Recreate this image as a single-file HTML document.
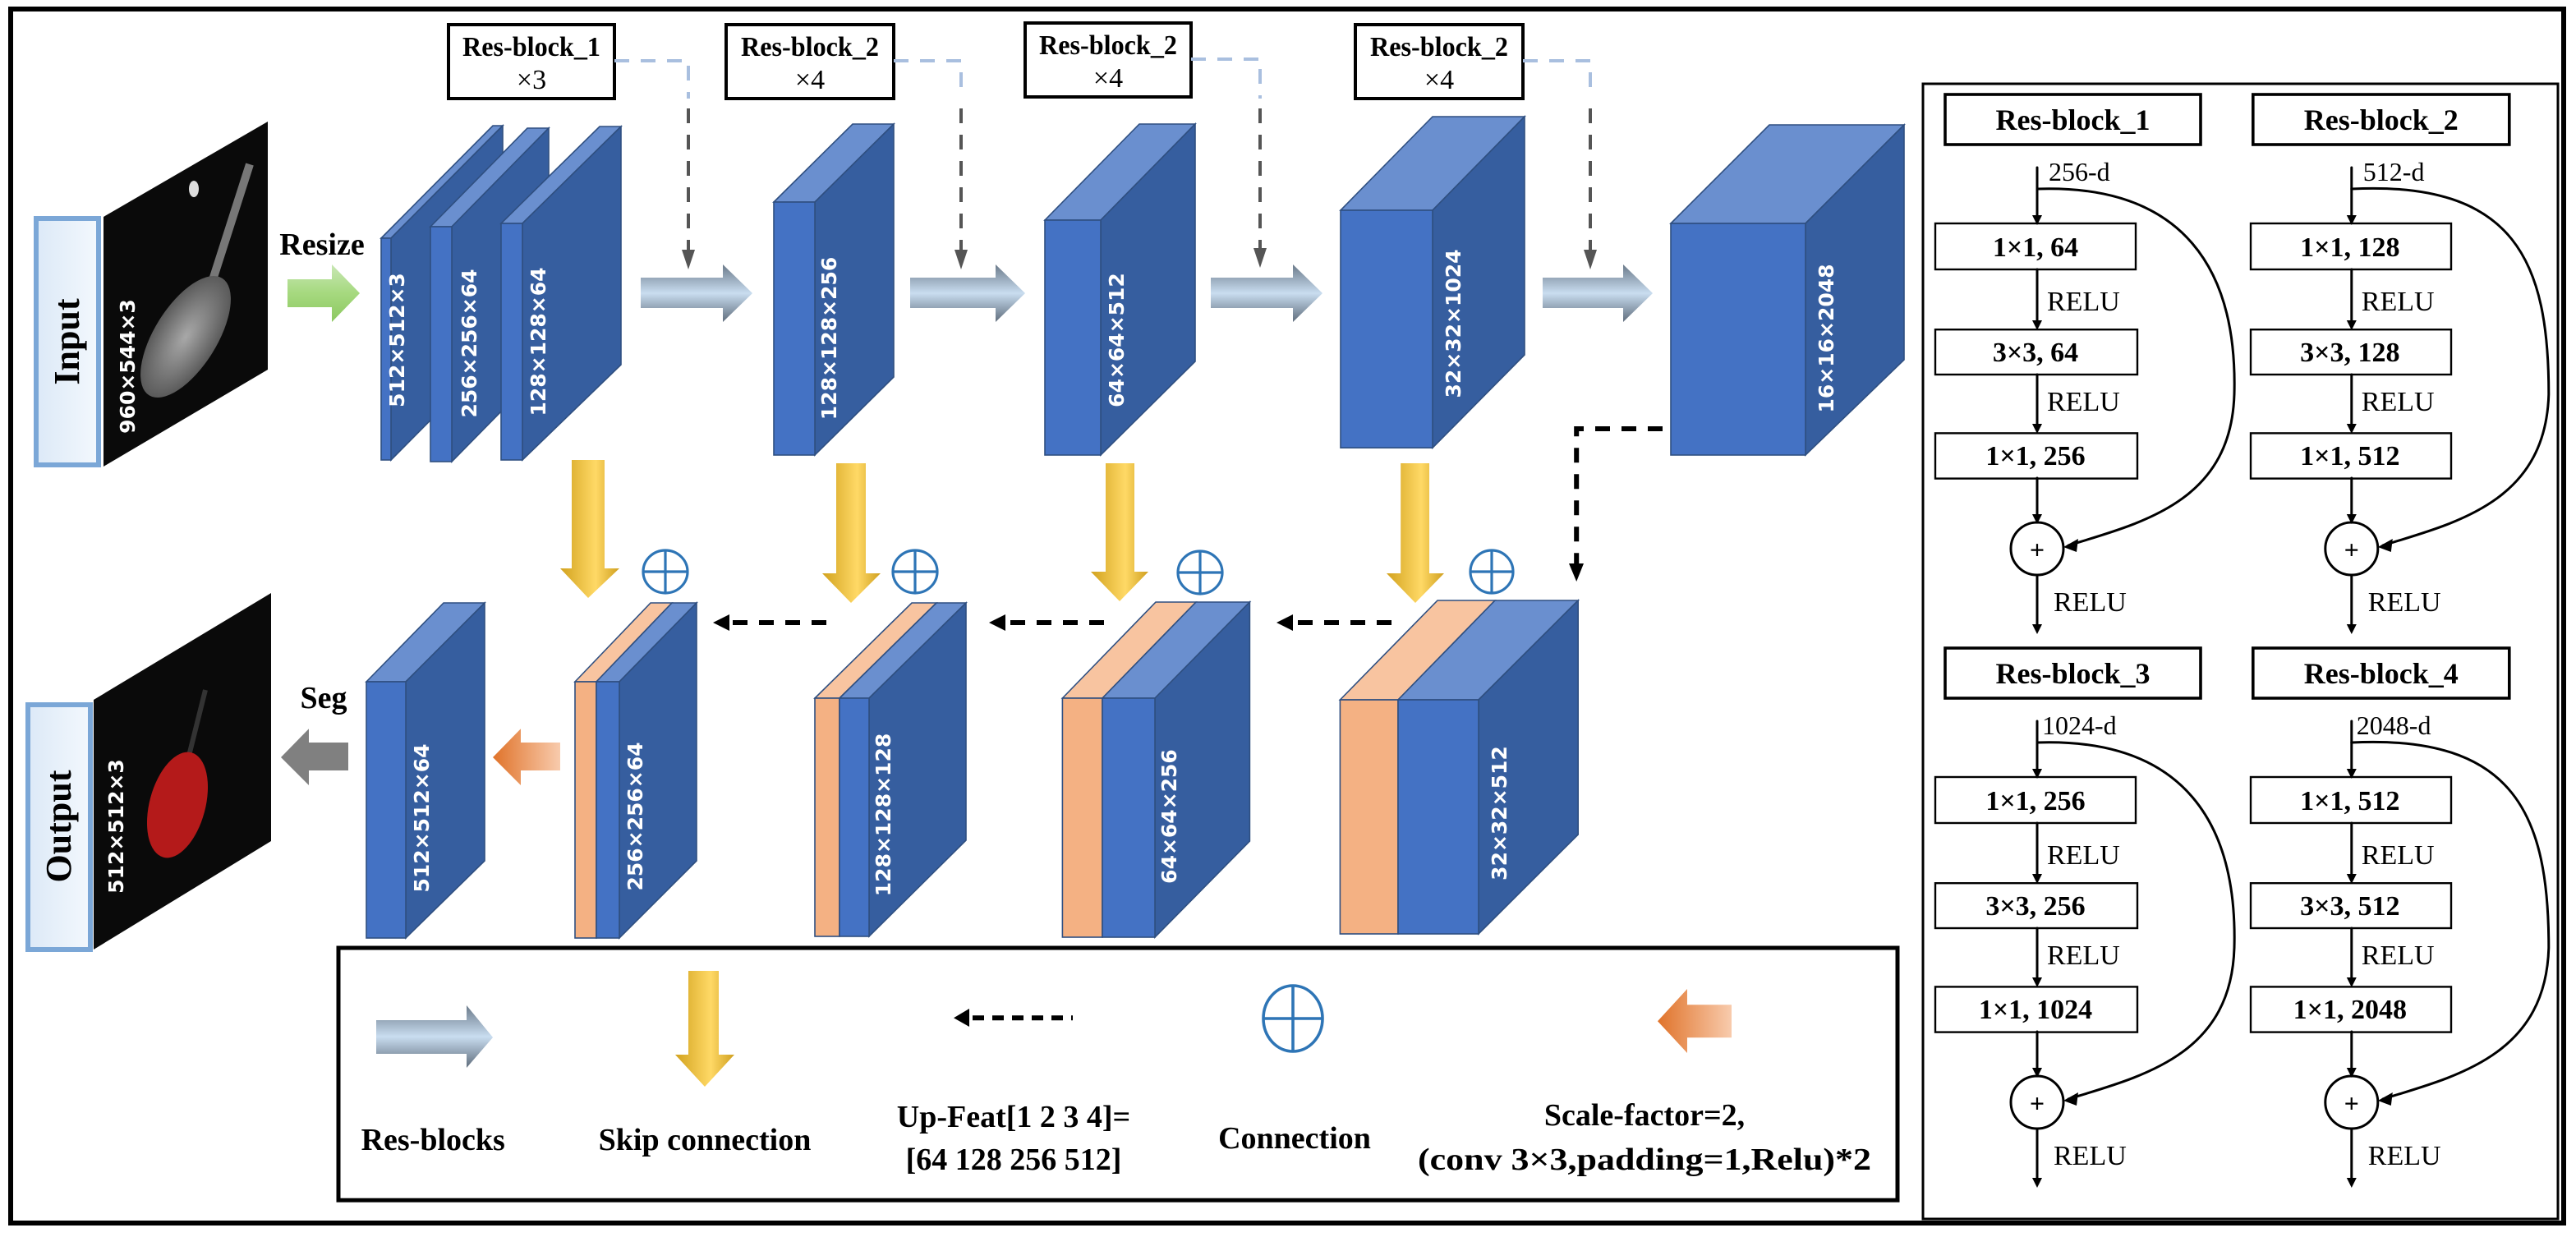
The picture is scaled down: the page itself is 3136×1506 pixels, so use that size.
<!DOCTYPE html>
<html><head><meta charset="utf-8"><style>
html,body{margin:0;padding:0;background:#fff;}
svg{display:block;}
text{font-family:"Liberation Serif",serif;}
.dim{font-family:"DejaVu Sans","Liberation Sans",sans-serif;font-weight:bold;fill:#fff;font-size:12.5px;}
</style></head><body>
<svg width="3136" height="1506" viewBox="0 0 1568 753" xmlns="http://www.w3.org/2000/svg">
<defs>
<linearGradient id="gArr" x1="0" y1="0" x2="0" y2="1">
<stop offset="0" stop-color="#6b7a8a"/><stop offset="0.5" stop-color="#c9ddf0"/><stop offset="1" stop-color="#5f6d7c"/></linearGradient>
<linearGradient id="grn" x1="0" y1="0" x2="0" y2="1">
<stop offset="0" stop-color="#c9e7b4"/><stop offset="0.5" stop-color="#a6d97f"/><stop offset="1" stop-color="#8cc860"/></linearGradient>
<linearGradient id="yel" x1="0" y1="0" x2="1" y2="0">
<stop offset="0" stop-color="#d2a21e"/><stop offset="0.6" stop-color="#ffd966"/><stop offset="1" stop-color="#d0a020"/></linearGradient>
<linearGradient id="org" x1="0" y1="0" x2="1" y2="0">
<stop offset="0" stop-color="#e0732a"/><stop offset="1" stop-color="#f8cbad"/></linearGradient>
<linearGradient id="lbl" x1="0" y1="0" x2="1" y2="0">
<stop offset="0" stop-color="#dce9f7"/><stop offset="1" stop-color="#f3f8fd"/></linearGradient>
<radialGradient id="blob" cx="0.5" cy="0.5" r="0.5">
<stop offset="0" stop-color="#a8a8a8"/><stop offset="1" stop-color="#5a5a5a"/></radialGradient>
</defs>

<rect x="6.5" y="5.5" width="1554" height="739" fill="none" stroke="#000" stroke-width="3"/>

<rect x="22" y="133" width="38" height="150" fill="url(#lbl)" stroke="#7ba7d7" stroke-width="3"/>
<text transform="translate(48,208) rotate(-90)" text-anchor="middle" font-size="22" font-weight="bold">Input</text>
<polygon points="63,132 163,74 163,225 63,284" fill="#0a0a0a"/>
<line x1="128" y1="175" x2="152" y2="100" stroke="#777" stroke-width="5"/>
<ellipse cx="113" cy="205" rx="19" ry="42" transform="rotate(32 113 205)" fill="url(#blob)"/>
<ellipse cx="118" cy="115" rx="3" ry="5" fill="#ddd"/>
<text class="dim" transform="translate(82,223) rotate(-90)" text-anchor="middle">960×544×3</text>

<text x="196" y="155" text-anchor="middle" font-size="19" font-weight="bold">Resize</text>
<polygon points="175,170 202,170 202,161 219,178.5 202,196 202,187 175,187" fill="url(#grn)"/>

<g font-size="17">
<rect x="273" y="15" width="101" height="45" fill="#fff" stroke="#000" stroke-width="2"/>
<text x="323.5" y="34" text-anchor="middle" font-weight="bold" textLength="84" lengthAdjust="spacingAndGlyphs">Res-block_1</text>
<text x="323.5" y="54" text-anchor="middle">×3</text>
<rect x="442" y="15" width="102" height="45" fill="#fff" stroke="#000" stroke-width="2"/>
<text x="493" y="34" text-anchor="middle" font-weight="bold" textLength="84" lengthAdjust="spacingAndGlyphs">Res-block_2</text>
<text x="493" y="54" text-anchor="middle">×4</text>
<rect x="624" y="14" width="101" height="45" fill="#fff" stroke="#000" stroke-width="2"/>
<text x="674.5" y="33" text-anchor="middle" font-weight="bold" textLength="84" lengthAdjust="spacingAndGlyphs">Res-block_2</text>
<text x="674.5" y="53" text-anchor="middle">×4</text>
<rect x="825" y="15" width="102" height="45" fill="#fff" stroke="#000" stroke-width="2"/>
<text x="876" y="34" text-anchor="middle" font-weight="bold" textLength="84" lengthAdjust="spacingAndGlyphs">Res-block_2</text>
<text x="876" y="54" text-anchor="middle">×4</text>
</g>
<g fill="none" stroke-width="2" stroke-dasharray="9,7">
<path d="M374,37 H419 V60" stroke="#a9bfdf"/><path d="M419,66 V158" stroke="#555"/>
<path d="M544,37 H585 V60" stroke="#a9bfdf"/><path d="M585,66 V158" stroke="#555"/>
<path d="M725,36 H767 V60" stroke="#a9bfdf"/><path d="M767,66 V157" stroke="#555"/>
<path d="M927,37 H968 V60" stroke="#a9bfdf"/><path d="M968,66 V158" stroke="#555"/>
</g>
<g fill="#555">
<polygon points="415,152 423,152 419,164"/>
<polygon points="581,152 589,152 585,164"/>
<polygon points="763,151 771,151 767,163"/>
<polygon points="964,152 972,152 968,164"/>
</g>

<g fill="url(#gArr)">
<polygon points="390,169 440,169 440,161 458,178.5 440,196 440,187.5 390,187.5"/>
<polygon points="554,169 606,169 606,161 624,178.5 606,196 606,187.5 554,187.5"/>
<polygon points="737,169 787,169 787,161 805,178.5 787,196 787,187.5 737,187.5"/>
<polygon points="939,169 988,169 988,161 1006,178.5 988,196 988,187.5 939,187.5"/>
</g>

<g stroke="#2f4f80" stroke-width="0.8">
<polygon points="232,145 300,76.5 306,76.5 238,145" fill="#6a8fcf"/>
<polygon points="238,145 306,76.5 306,211.5 238,280" fill="#365e9f"/>
<rect x="232" y="145" width="6" height="135" fill="#4472c4"/>
<polygon points="262,138 321,78 334,78 275,138" fill="#6a8fcf"/>
<polygon points="275,138 334,78 334,221 275,281" fill="#365e9f"/>
<rect x="262" y="138" width="13" height="143" fill="#4472c4"/>
<polygon points="305,136 365,77 378,77 318,136" fill="#6a8fcf"/>
<polygon points="318,136 378,77 378,222 318,280" fill="#365e9f"/>
<rect x="305" y="136" width="13" height="144" fill="#4472c4"/>
<polygon points="471,123 519,75.5 544,75.5 496,123" fill="#6a8fcf"/>
<polygon points="496,123 544,75.5 544,229.5 496,277" fill="#365e9f"/>
<rect x="471" y="123" width="25" height="154" fill="#4472c4"/>
<polygon points="636,134 693.5,75.5 727.5,75.5 670,134" fill="#6a8fcf"/>
<polygon points="670,134 727.5,75.5 727.5,220 670,277" fill="#365e9f"/>
<rect x="636" y="134" width="34" height="143" fill="#4472c4"/>
<polygon points="816,128 872,71 928,71 872,128" fill="#6a8fcf"/>
<polygon points="872,128 928,71 928,216 872,272.6" fill="#365e9f"/>
<rect x="816" y="128" width="56" height="144.6" fill="#4472c4"/>
<polygon points="1017,136 1077,76 1159,76 1099,136" fill="#6a8fcf"/>
<polygon points="1099,136 1159,76 1159,219 1099,277" fill="#365e9f"/>
<rect x="1017" y="136" width="82" height="141" fill="#4472c4"/>
</g>
<text class="dim" transform="translate(246,207) rotate(-90)" text-anchor="middle">512×512×3</text>
<text class="dim" transform="translate(290,209) rotate(-90)" text-anchor="middle">256×256×64</text>
<text class="dim" transform="translate(332,208) rotate(-90)" text-anchor="middle">128×128×64</text>
<text class="dim" transform="translate(509,206) rotate(-90)" text-anchor="middle">128×128×256</text>
<text class="dim" transform="translate(684,207) rotate(-90)" text-anchor="middle">64×64×512</text>
<text class="dim" transform="translate(889,197) rotate(-90)" text-anchor="middle">32×32×1024</text>
<text class="dim" transform="translate(1116,206) rotate(-90)" text-anchor="middle">16×16×2048</text>

<path d="M1012,261 H959.6 V345" fill="none" stroke="#000" stroke-width="3" stroke-dasharray="9,7"/>
<polygon points="955,343 964,343 959.6,354" fill="#000"/>

<g fill="url(#yel)">
<polygon points="348,280 368,280 368,346 377,346 358,364 341,346 348,346"/>
<polygon points="509,282 527,282 527,349 536,349 518,367 500.5,349 509,349"/>
<polygon points="673,282 690.5,282 690.5,348 699,348 681.5,366 664,348 673,348"/>
<polygon points="852.6,282 870,282 870,349 879,349 861.5,367 844,349 852.6,349"/>
</g>
<g fill="none" stroke="#2e75b6" stroke-width="1.6">
<ellipse cx="405" cy="348" rx="13.5" ry="13"/><path d="M405,335 V361 M391.5,348 H418.5"/>
<ellipse cx="557" cy="348" rx="13.5" ry="13"/><path d="M557,335 V361 M543.5,348 H570.5"/>
<ellipse cx="730.5" cy="348.5" rx="13.5" ry="13"/><path d="M730.5,335.5 V361.5 M717,348.5 H744"/>
<ellipse cx="908" cy="348" rx="13" ry="13"/><path d="M908,335 V361 M895,348 H921"/>
</g>

<g stroke="#000" stroke-width="3" stroke-dasharray="9,7" fill="none">
<path d="M503,379 H442"/><path d="M672,379 H611"/><path d="M847,379 H786"/>
</g>
<g fill="#000">
<polygon points="434,379 444,374 444,384"/>
<polygon points="602,379 612,374 612,384"/>
<polygon points="777,379 787,374 787,384"/>
</g>

<g stroke="#2f4f80" stroke-width="0.8">
<polygon points="223,415 270,367 295,367 247,415" fill="#6a8fcf"/>
<polygon points="247,415 295,367 295,524 247,571" fill="#365e9f"/>
<rect x="223" y="415" width="24" height="156" fill="#4472c4"/>
<polygon points="350,415 396,367 409,367 363,415" fill="#f8c4a0"/>
<polygon points="363,415 409,367 424,367 377,415" fill="#6a8fcf"/>
<polygon points="377,415 424,367 424,524 377,571" fill="#365e9f"/>
<rect x="350" y="415" width="13" height="156" fill="#f4b183"/>
<rect x="363" y="415" width="14" height="156" fill="#4472c4"/>
<polygon points="496,425 555,367 570,367 511,425" fill="#f8c4a0"/>
<polygon points="511,425 570,367 588,367 529,425" fill="#6a8fcf"/>
<polygon points="529,425 588,367 588,511.5 529,570" fill="#365e9f"/>
<rect x="496" y="425" width="15" height="145" fill="#f4b183"/>
<rect x="511" y="425" width="18" height="145" fill="#4472c4"/>
<polygon points="646.7,425 703.5,366.5 728,366.5 671,425" fill="#f8c4a0"/>
<polygon points="671,425 728,366.5 760.7,366.5 703,425" fill="#6a8fcf"/>
<polygon points="703,425 760.7,366.5 760.7,512 703,570.5" fill="#365e9f"/>
<rect x="646.7" y="425" width="24.3" height="145.5" fill="#f4b183"/>
<rect x="671" y="425" width="32" height="145.5" fill="#4472c4"/>
<polygon points="815.7,426 875,365.5 910,365.5 851,426" fill="#f8c4a0"/>
<polygon points="851,426 910,365.5 960.6,365.5 900,426" fill="#6a8fcf"/>
<polygon points="900,426 960.6,365.5 960.6,508 900,568.5" fill="#365e9f"/>
<rect x="815.7" y="426" width="35.3" height="142.5" fill="#f4b183"/>
<rect x="851" y="426" width="49" height="142.5" fill="#4472c4"/>
</g>
<text class="dim" transform="translate(261,498) rotate(-90)" text-anchor="middle">512×512×64</text>
<text class="dim" transform="translate(391,497) rotate(-90)" text-anchor="middle">256×256×64</text>
<text class="dim" transform="translate(542,496) rotate(-90)" text-anchor="middle">128×128×128</text>
<text class="dim" transform="translate(716,497) rotate(-90)" text-anchor="middle">64×64×256</text>
<text class="dim" transform="translate(917,495) rotate(-90)" text-anchor="middle">32×32×512</text>

<polygon points="341,452 317,452 317,443.6 300,461 317,478 317,469 341,469" fill="url(#org)"/>
<polygon points="212,452 188,452 188,443.6 171,461 188,478 188,469 212,469" fill="#808080"/>
<text x="197" y="431" text-anchor="middle" font-size="19" font-weight="bold">Seg</text>

<rect x="17" y="429" width="38" height="149" fill="url(#lbl)" stroke="#7ba7d7" stroke-width="3"/>
<text transform="translate(43,503) rotate(-90)" text-anchor="middle" font-size="22" font-weight="bold">Output</text>
<polygon points="57,426 165,361 165,512 57,578" fill="#0a0a0a"/>
<line x1="115" y1="460" x2="125" y2="420" stroke="#333" stroke-width="3"/>
<ellipse cx="108" cy="490" rx="17" ry="33" transform="rotate(15 108 490)" fill="#b41a1a"/>
<text class="dim" transform="translate(75,503) rotate(-90)" text-anchor="middle">512×512×3</text>

<rect x="206" y="577" width="949" height="153.6" fill="#fff" stroke="#000" stroke-width="2.5"/>
<polygon points="229,621 284,621 284,612 300,631.5 284,650 284,641.5 229,641.5" fill="url(#gArr)"/>
<polygon points="419,591 437.5,591 437.5,642 447,642 429,661.5 411,642 419,642" fill="url(#yel)"/>
<path d="M592,619.6 H653" stroke="#000" stroke-width="3" stroke-dasharray="7,5"/>
<polygon points="580.5,619.6 590,614 590,625" fill="#000"/>
<g fill="none" stroke="#2e75b6" stroke-width="1.8">
<ellipse cx="787" cy="620" rx="18" ry="20"/><path d="M787,600 V640 M769,620 H805"/>
</g>
<polygon points="1054,611.6 1027,611.6 1027,602 1009,621.6 1027,641 1027,631.6 1054,631.6" fill="url(#org)"/>
<g font-size="19" font-weight="bold" text-anchor="middle">
<text x="263.6" y="700">Res-blocks</text>
<text x="429" y="700">Skip connection</text>
<text x="617" y="686">Up-Feat[1 2 3 4]=</text>
<text x="617" y="712">[64 128 256 512]</text>
<text x="788" y="699">Connection</text>
<text x="1001" y="685">Scale-factor=2,</text>
<text x="1001" y="712" textLength="276" lengthAdjust="spacingAndGlyphs">(conv 3×3,padding=1,Relu)*2</text>
</g>

<rect x="1170.5" y="51" width="386.5" height="691" fill="none" stroke="#000" stroke-width="1.5"/>
<g font-size="17" stroke-linecap="round">
<g>
<rect x="1184" y="57.5" width="155.5" height="30.5" fill="#fff" stroke="#000" stroke-width="1.8"/>
<text x="1261.75" y="79" text-anchor="middle" font-weight="bold" font-size="18">Res-block_1</text>
<text x="1247" y="110" font-size="16">256-d</text>
<path d="M1240,102 V133" stroke="#000" stroke-width="1.5"/>
<rect x="1178" y="136" width="122" height="28" fill="#fff" stroke="#000" stroke-width="1.2"/>
<text x="1239" y="156" text-anchor="middle" font-weight="bold">1×1, 64</text>
<path d="M1240,164 V197" stroke="#000" stroke-width="1.5"/>
<text x="1246" y="189">RELU</text>
<rect x="1178" y="200.6" width="123" height="27.4" fill="#fff" stroke="#000" stroke-width="1.2"/>
<text x="1239" y="220" text-anchor="middle" font-weight="bold">3×3, 64</text>
<path d="M1240,228 V261" stroke="#000" stroke-width="1.5"/>
<text x="1246" y="250">RELU</text>
<rect x="1178" y="263.7" width="123" height="27.6" fill="#fff" stroke="#000" stroke-width="1.2"/>
<text x="1239" y="283" text-anchor="middle" font-weight="bold">1×1, 256</text>
<path d="M1240,291 V316" stroke="#000" stroke-width="1.5"/>
<circle cx="1240" cy="334" r="16" fill="#fff" stroke="#000" stroke-width="1.5"/>
<text x="1240" y="340" text-anchor="middle" font-weight="bold" font-size="16">+</text>
<path d="M1240,350 V382" stroke="#000" stroke-width="1.5"/>
<text x="1250" y="372">RELU</text>
<path d="M1240,115 C1330,112 1362,165 1360,240 C1358,305 1305,318 1259,332" fill="none" stroke="#000" stroke-width="1.5"/>
<polygon points="1256,333 1265,328 1264,336" fill="#000"/>
<polygon points="1237,131 1243,131 1240,137" fill="#000"/>
<polygon points="1237,195 1243,195 1240,201" fill="#000"/>
<polygon points="1237,258 1243,258 1240,264" fill="#000"/>
<polygon points="1237,313 1243,313 1240,319" fill="#000"/>
<polygon points="1237,380 1243,380 1240,386" fill="#000"/>
</g>
<g transform="translate(191.4,0)">
<rect x="1180" y="57.5" width="156" height="30.5" fill="#fff" stroke="#000" stroke-width="1.8"/>
<text x="1258" y="79" text-anchor="middle" font-weight="bold" font-size="18">Res-block_2</text>
<text x="1247" y="110" font-size="16">512-d</text>
<path d="M1240,102 V133" stroke="#000" stroke-width="1.5"/>
<rect x="1178.6" y="136" width="122" height="28" fill="#fff" stroke="#000" stroke-width="1.2"/>
<text x="1239" y="156" text-anchor="middle" font-weight="bold">1×1, 128</text>
<path d="M1240,164 V197" stroke="#000" stroke-width="1.5"/>
<text x="1246" y="189">RELU</text>
<rect x="1178.6" y="200.6" width="122" height="27.4" fill="#fff" stroke="#000" stroke-width="1.2"/>
<text x="1239" y="220" text-anchor="middle" font-weight="bold">3×3, 128</text>
<path d="M1240,228 V261" stroke="#000" stroke-width="1.5"/>
<text x="1246" y="250">RELU</text>
<rect x="1178.6" y="263.7" width="122" height="27.6" fill="#fff" stroke="#000" stroke-width="1.2"/>
<text x="1239" y="283" text-anchor="middle" font-weight="bold">1×1, 512</text>
<path d="M1240,291 V316" stroke="#000" stroke-width="1.5"/>
<circle cx="1240" cy="334" r="16" fill="#fff" stroke="#000" stroke-width="1.5"/>
<text x="1240" y="340" text-anchor="middle" font-weight="bold" font-size="16">+</text>
<path d="M1240,350 V382" stroke="#000" stroke-width="1.5"/>
<text x="1250" y="372">RELU</text>
<path d="M1240,115 C1340,110 1360,160 1360,240 C1358,305 1305,318 1259,332" fill="none" stroke="#000" stroke-width="1.5"/>
<polygon points="1256,333 1265,328 1264,336" fill="#000"/>
<polygon points="1237,131 1243,131 1240,137" fill="#000"/>
<polygon points="1237,195 1243,195 1240,201" fill="#000"/>
<polygon points="1237,258 1243,258 1240,264" fill="#000"/>
<polygon points="1237,313 1243,313 1240,319" fill="#000"/>
<polygon points="1237,380 1243,380 1240,386" fill="#000"/>
</g>
<g transform="translate(0,337)">
<rect x="1184" y="57.5" width="155.5" height="30.5" fill="#fff" stroke="#000" stroke-width="1.8"/>
<text x="1261.75" y="79" text-anchor="middle" font-weight="bold" font-size="18">Res-block_3</text>
<text x="1243" y="110" font-size="16">1024-d</text>
<path d="M1240,102 V133" stroke="#000" stroke-width="1.5"/>
<rect x="1178" y="136" width="122" height="28" fill="#fff" stroke="#000" stroke-width="1.2"/>
<text x="1239" y="156" text-anchor="middle" font-weight="bold">1×1, 256</text>
<path d="M1240,164 V197" stroke="#000" stroke-width="1.5"/>
<text x="1246" y="189">RELU</text>
<rect x="1178" y="200.6" width="123" height="27.4" fill="#fff" stroke="#000" stroke-width="1.2"/>
<text x="1239" y="220" text-anchor="middle" font-weight="bold">3×3, 256</text>
<path d="M1240,228 V261" stroke="#000" stroke-width="1.5"/>
<text x="1246" y="250">RELU</text>
<rect x="1178" y="263.7" width="123" height="27.6" fill="#fff" stroke="#000" stroke-width="1.2"/>
<text x="1239" y="283" text-anchor="middle" font-weight="bold">1×1, 1024</text>
<path d="M1240,291 V316" stroke="#000" stroke-width="1.5"/>
<circle cx="1240" cy="334" r="16" fill="#fff" stroke="#000" stroke-width="1.5"/>
<text x="1240" y="340" text-anchor="middle" font-weight="bold" font-size="16">+</text>
<path d="M1240,350 V382" stroke="#000" stroke-width="1.5"/>
<text x="1250" y="372">RELU</text>
<path d="M1240,115 C1330,112 1362,165 1360,240 C1358,305 1305,318 1259,332" fill="none" stroke="#000" stroke-width="1.5"/>
<polygon points="1256,333 1265,328 1264,336" fill="#000"/>
<polygon points="1237,131 1243,131 1240,137" fill="#000"/>
<polygon points="1237,195 1243,195 1240,201" fill="#000"/>
<polygon points="1237,258 1243,258 1240,264" fill="#000"/>
<polygon points="1237,313 1243,313 1240,319" fill="#000"/>
<polygon points="1237,380 1243,380 1240,386" fill="#000"/>
</g>
<g transform="translate(191.4,337)">
<rect x="1180" y="57.5" width="156" height="30.5" fill="#fff" stroke="#000" stroke-width="1.8"/>
<text x="1258" y="79" text-anchor="middle" font-weight="bold" font-size="18">Res-block_4</text>
<text x="1243" y="110" font-size="16">2048-d</text>
<path d="M1240,102 V133" stroke="#000" stroke-width="1.5"/>
<rect x="1178.6" y="136" width="122" height="28" fill="#fff" stroke="#000" stroke-width="1.2"/>
<text x="1239" y="156" text-anchor="middle" font-weight="bold">1×1, 512</text>
<path d="M1240,164 V197" stroke="#000" stroke-width="1.5"/>
<text x="1246" y="189">RELU</text>
<rect x="1178.6" y="200.6" width="122" height="27.4" fill="#fff" stroke="#000" stroke-width="1.2"/>
<text x="1239" y="220" text-anchor="middle" font-weight="bold">3×3, 512</text>
<path d="M1240,228 V261" stroke="#000" stroke-width="1.5"/>
<text x="1246" y="250">RELU</text>
<rect x="1178.6" y="263.7" width="122" height="27.6" fill="#fff" stroke="#000" stroke-width="1.2"/>
<text x="1239" y="283" text-anchor="middle" font-weight="bold">1×1, 2048</text>
<path d="M1240,291 V316" stroke="#000" stroke-width="1.5"/>
<circle cx="1240" cy="334" r="16" fill="#fff" stroke="#000" stroke-width="1.5"/>
<text x="1240" y="340" text-anchor="middle" font-weight="bold" font-size="16">+</text>
<path d="M1240,350 V382" stroke="#000" stroke-width="1.5"/>
<text x="1250" y="372">RELU</text>
<path d="M1240,115 C1340,110 1360,160 1360,240 C1358,305 1305,318 1259,332" fill="none" stroke="#000" stroke-width="1.5"/>
<polygon points="1256,333 1265,328 1264,336" fill="#000"/>
<polygon points="1237,131 1243,131 1240,137" fill="#000"/>
<polygon points="1237,195 1243,195 1240,201" fill="#000"/>
<polygon points="1237,258 1243,258 1240,264" fill="#000"/>
<polygon points="1237,313 1243,313 1240,319" fill="#000"/>
<polygon points="1237,380 1243,380 1240,386" fill="#000"/>
</g>
</g>
</svg>
</body></html>
